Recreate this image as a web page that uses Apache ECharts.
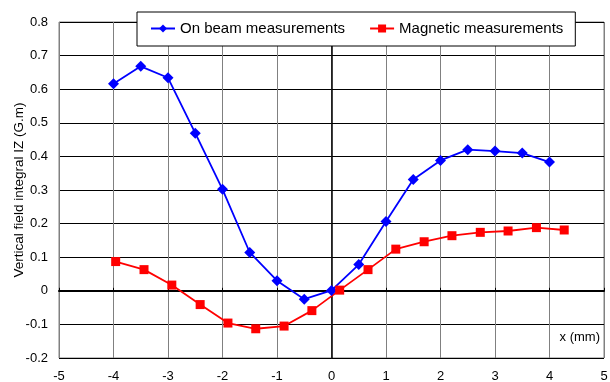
<!DOCTYPE html>
<html>
<head>
<meta charset="utf-8">
<script src="https://cdn.jsdelivr.net/npm/echarts@6/dist/echarts.min.js"></script>
<style>
  html, body { margin: 0; padding: 0; background: #fff; }
  #chart { width: 610px; height: 382px; }
</style>
</head>
<body>
<div id="chart"></div>
<script>
// Vertical field integral across the horizontal position x
const beamX = [-4, -3.5, -3, -2.5, -2, -1.5, -1, -0.5, 0, 0.5, 1, 1.5, 2, 2.5, 3, 3.5, 4];
const beamY = [0.616, 0.668, 0.634, 0.469, 0.302, 0.114, 0.030, -0.025, 0.001, 0.078, 0.206, 0.331, 0.388, 0.420, 0.416, 0.410, 0.383];

const magX = [-3.96, -3.44, -2.93, -2.41, -1.90, -1.39, -0.87, -0.36, 0.15, 0.67, 1.18, 1.70, 2.21, 2.73, 3.24, 3.76, 4.27];
const magY = [0.087, 0.063, 0.017, -0.041, -0.096, -0.113, -0.105, -0.059, 0.002, 0.063, 0.124, 0.146, 0.164, 0.174, 0.178, 0.188, 0.181];

const seriesNames = ['On beam measurements', 'Magnetic measurements'];
const xTicks = [-5, -4, -3, -2, -1, 0, 1, 2, 3, 4, 5];
const yTicks = [-0.2, -0.1, 0, 0.1, 0.2, 0.3, 0.4, 0.5, 0.6, 0.7, 0.8];

const FONT = '"Liberation Sans", Arial, sans-serif';

const pairs = (xs, ys) => xs.map((x, i) => [x, ys[i]]);

const chart = echarts.init(document.getElementById('chart'), null, { renderer: 'canvas' });

chart.setOption({
  animation: false,
  backgroundColor: '#ffffff',
  textStyle: { fontFamily: FONT },
  grid: {
    left: 59, right: 6, top: 22, bottom: 24,
    containLabel: false, outerBoundsMode: 'none',
    show: true, borderColor: '#808080', borderWidth: 1, backgroundColor: 'transparent'
  },
  legend: {
    data: seriesNames,
    left: 137, top: 12,
    padding: [9, 12, 10, 13],
    itemWidth: 24, itemHeight: 10, itemGap: 24,
    backgroundColor: '#ffffff',
    borderColor: '#000000', borderWidth: 1,
    textStyle: { fontFamily: FONT, fontSize: 15, color: '#000' }
  },
  xAxis: [
    {
      type: 'value',
      min: xTicks[0], max: xTicks[xTicks.length - 1], interval: 1,
      axisLine: { show: false, onZero: false },
      axisTick: { show: false },
      axisLabel: { fontFamily: FONT, fontSize: 13, color: '#000', margin: 12 },
      splitLine: { show: true, lineStyle: { color: '#808080', width: 1 } }
    },
    {
      type: 'value',
      min: xTicks[0], max: xTicks[xTicks.length - 1], interval: 1,
      axisLine: { show: true, onZero: true, onZeroAxisIndex: 0, lineStyle: { color: '#000', width: 2 } },
      axisTick: { show: true, length: 3, inside: false, lineStyle: { color: '#000', width: 1 } },
      axisLabel: { show: false },
      splitLine: { show: false }
    }
  ],
  yAxis: [
    {
      type: 'value',
      min: yTicks[0], max: yTicks[yTicks.length - 1], interval: 0.1,
      name: 'Vertical field integral IZ (G.m)',
      nameLocation: 'middle', nameGap: 33, nameRotate: 90,
      nameMoveOverlap: false,
      nameTextStyle: { fontFamily: FONT, fontSize: 13.5, color: '#000' },
      axisLine: { show: false, onZero: false },
      axisTick: { show: false },
      axisLabel: {
        fontFamily: FONT, fontSize: 13, color: '#000', margin: 11,
        formatter: v => (Math.abs(v) < 1e-9 ? '0' : String(Math.round(v * 10) / 10))
      },
      splitLine: { show: true, lineStyle: { color: '#000', width: 1 } }
    },
    {
      type: 'value',
      min: yTicks[0], max: yTicks[yTicks.length - 1], interval: 0.1,
      axisLine: { show: true, onZero: true, onZeroAxisIndex: 0, lineStyle: { color: '#000', width: 1.5 } },
      axisTick: { show: true, length: 3, inside: false, lineStyle: { color: '#000', width: 1 } },
      axisLabel: { show: false },
      splitLine: { show: false }
    }
  ],
  graphic: [
    {
      type: 'text',
      right: 10, top: 331,
      style: { text: 'x (mm)', fontFamily: FONT, fontSize: 13, fill: '#000' }
    }
  ],
  series: [
    {
      name: seriesNames[0],
      type: 'line',
      xAxisIndex: 0, yAxisIndex: 0,
      data: pairs(beamX, beamY),
      symbol: 'diamond', symbolSize: 11,
      itemStyle: { color: '#0000ff' },
      lineStyle: { color: '#0000ff', width: 1.8 },
      z: 5
    },
    {
      name: seriesNames[1],
      type: 'line',
      xAxisIndex: 0, yAxisIndex: 0,
      data: pairs(magX, magY),
      symbol: 'rect', symbolSize: 9,
      itemStyle: { color: '#ff0000' },
      lineStyle: { color: '#ff0000', width: 1.8 },
      z: 5
    }
  ]
});
</script>
</body>
</html>
